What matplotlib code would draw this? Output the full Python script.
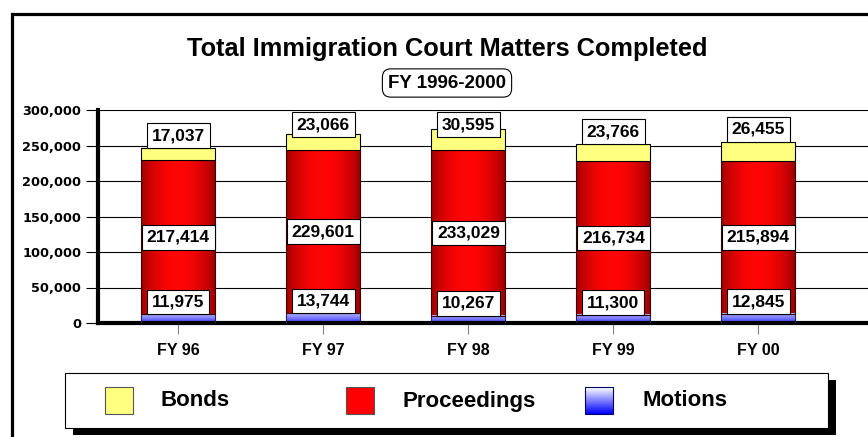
import numpy as np
import matplotlib.pyplot as plt
from matplotlib.patches import Rectangle
from matplotlib.ticker import FuncFormatter

plt.rcParams['font.family'] = ['Liberation Sans', 'DejaVu Sans']

years = ["FY 96", "FY 97", "FY 98", "FY 99", "FY 00"]
motions = [11975, 13744, 10267, 11300, 12845]
proceedings = [217414, 229601, 233029, 216734, 215894]
bonds = [17037, 23066, 30595, 23766, 26455]
series_names = ["Bonds", "Proceedings", "Motions"]

W, H = 868, 437
fig = plt.figure(figsize=(W / 100, H / 100), dpi=100)

# plot area: y axis at x=98px, top at 110px, zero line at 323px
ax = fig.add_axes([98 / W, (H - 323) / H, (W - 98) / W + 0.01, 213 / H])

x = np.arange(len(years))
m = np.array(motions)
p = np.array(proceedings)
b = np.array(bonds)
bw = 0.51

mbars = ax.bar(x, m, bw, color='none', edgecolor='#202060', lw=0.8, zorder=3)
pbars = ax.bar(x, p, bw, bottom=m, color='none', edgecolor='#400000', lw=0.8, zorder=3)
bbars = ax.bar(x, b, bw, bottom=m + p, color='#FFFF80', edgecolor='black', lw=0.8, zorder=3)

# cylinder shading for the red segments, vertical fade for motions
t = np.linspace(0, 1, 64)
s = np.sin(np.pi * t) ** 0.7
dark = np.array([0.6, 0.0, 0.0])
bright = np.array([1.0, 0.02, 0.02])
red_img = (dark + (bright - dark) * s[:, None])[None, :, :]

u = np.linspace(0, 1, 32)[:, None]
blue_lo = np.array([0.22, 0.22, 1.0])
blue_hi = np.array([0.72, 0.72, 1.0])
blue_img = (blue_lo + (blue_hi - blue_lo) * u)[:, None, :]


def fill_gradient(bars, img):
    for r in bars:
        x0, y0 = r.get_xy()
        ax.imshow(img, extent=[x0, x0 + r.get_width(), y0, y0 + r.get_height()],
                  origin='lower', aspect='auto', interpolation='bilinear', zorder=2)


fill_gradient(pbars, red_img)
fill_gradient(mbars, blue_img)

lab = dict(ha='center', fontsize=12.5, fontweight='bold', zorder=6,
           bbox=dict(boxstyle='square,pad=0.28', fc='white', ec='black', lw=0.8))
for i in x:
    total = m[i] + p[i] + b[i]
    ax.annotate(f"{m[i]:,}", (i, m[i]), xytext=(0, 3.5), textcoords='offset points',
                va='bottom', **lab)
    ax.annotate(f"{p[i]:,}", (i, m[i] + p[i] / 2), va='center', **lab)
    ax.annotate(f"{b[i]:,}", (i, min(total, 262000)), xytext=(0, 3.5),
                textcoords='offset points', va='bottom', **lab)

ax.set_xlim(-0.554, 4.816)
ax.set_ylim(0, 300000)
ax.set_yticks(np.arange(0, 300001, 50000))
ax.yaxis.set_major_formatter(FuncFormatter(lambda v, _: f"{int(v):,}"))
ax.set_xticks(x)
ax.set_xticklabels(years)
ax.yaxis.grid(True, color='black', lw=0.8)
ax.set_axisbelow(True)
ax.set_facecolor('white')

for side in ['top', 'right']:
    ax.spines[side].set_visible(False)
for side in ['left', 'bottom']:
    ax.spines[side].set_linewidth(3)
    ax.spines[side].set_color('black')

ax.tick_params(axis='y', length=8.5, width=0.8, pad=3.6, color='black')
ax.tick_params(axis='x', length=8, width=0.8, pad=6.5, color='#808080')
for tl in ax.get_yticklabels():
    tl.set_fontfamily('DejaVu Sans')
    tl.set_fontweight('bold')
    tl.set_fontsize(9.3)
for tl in ax.get_xticklabels():
    tl.set_fontweight('bold')
    tl.set_fontsize(11.5)

# overlay in pixel units for frame, titles and legend
ov = fig.add_axes([0, 0, 1, 1], zorder=-1)
ov.set_xlim(0, W)
ov.set_ylim(H, 0)
ov.axis('off')

ov.plot([11.5, 11.5, W + 5], [H + 5, 13.5, 13.5], color='black', lw=2.3,
        solid_joinstyle='miter', clip_on=False)

ov.text(447, 49, "Total Immigration Court Matters Completed", ha='center', va='center',
        fontsize=18.3, fontweight='bold')
ov.text(447, 83, "FY 1996-2000", ha='center', va='center', fontsize=13.5, fontweight='bold',
        bbox=dict(boxstyle='round,pad=0.3,rounding_size=0.45', fc='white', ec='black', lw=0.8))

ov.add_patch(Rectangle((73, 380), 763, 55, fc='black', ec='none'))
ov.add_patch(Rectangle((65, 373), 763, 55, fc='white', ec='black', lw=0.8))

ov.add_patch(Rectangle((105, 387), 28, 27, fc='#FFFF80', ec='#555555', lw=0.8))
ov.add_patch(Rectangle((346, 387), 28, 27, fc='#FF0000', ec='#555555', lw=0.8))
leg_blue = (np.array([1.0, 1.0, 1.0]) + (np.array([0.0, 0.0, 1.0]) - 1.0) * u)[:, None, :]
ov.imshow(leg_blue, extent=[585, 613, 414, 387], origin='upper', aspect='auto',
          interpolation='bilinear', zorder=3)
ov.add_patch(Rectangle((585, 387), 28, 27, fc='none', ec='#000060', lw=0.8, zorder=4))
ov.set_xlim(0, W)
ov.set_ylim(H, 0)

for tx, name in zip([160, 402, 643], series_names):
    ov.text(tx, 401, name, ha='left', va='center', fontsize=16, fontweight='bold')

fig.savefig("out.png", dpi=100)
